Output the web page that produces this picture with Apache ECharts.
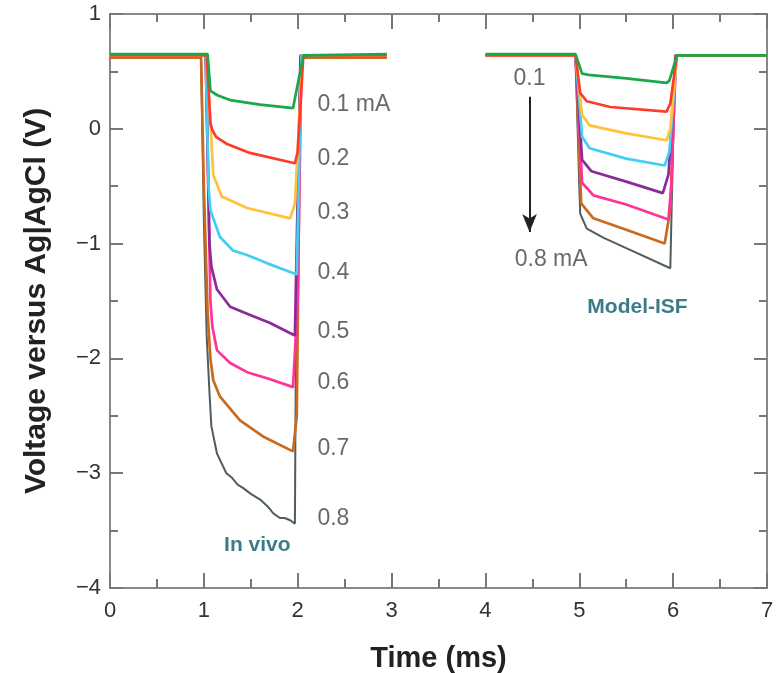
<!DOCTYPE html>
<html>
<head>
<meta charset="utf-8">
<script src="https://cdn.jsdelivr.net/npm/echarts@6/dist/echarts.min.js"></script>
<style>html,body{margin:0;padding:0;background:#fff}#c{width:780px;height:673px}</style>
</head>
<body>
<div id="c"></div>
<script>
// Current levels (mA)
const currents = ['0.1','0.2','0.3','0.4','0.5','0.6','0.7','0.8'];
const xTicks = [0,1,2,3,4,5,6,7];
const yTicks = [-4,-3,-2,-1,0,1];

// In vivo traces [time ms, voltage V]
const vivo01 = [[0,0.65],[1.04,0.65],[1.07,0.33],[1.15,0.29],[1.28,0.25],[1.6,0.21],[1.95,0.18],[2.06,0.64],[2.95,0.65]];
const vivo02 = [[0,0.64],[1.03,0.64],[1.07,0.05],[1.09,-0.01],[1.13,-0.07],[1.24,-0.13],[1.49,-0.21],[1.97,-0.30],[2.0,-0.2],[2.06,0.64],[2.95,0.64]];
const vivo03 = [[0,0.64],[1.03,0.64],[1.08,-0.1],[1.10,-0.4],[1.19,-0.59],[1.46,-0.69],[1.92,-0.78],[1.97,-0.65],[2.05,0.64],[2.95,0.64]];
const vivo04 = [[0,0.64],[1.02,0.64],[1.05,-0.5],[1.07,-0.71],[1.17,-0.94],[1.31,-1.06],[1.46,-1.10],[1.67,-1.17],[1.99,-1.27],[2.04,0.64],[2.95,0.64]];
const vivo05 = [[0,0.64],[1.02,0.64],[1.06,-1.0],[1.08,-1.2],[1.14,-1.40],[1.28,-1.55],[1.46,-1.61],[1.70,-1.69],[1.97,-1.80],[2.03,0.64],[2.95,0.64]];
const vivo06 = [[0,0.64],[1.02,0.64],[1.07,-1.5],[1.09,-1.72],[1.14,-1.93],[1.28,-2.04],[1.46,-2.12],[1.70,-2.18],[1.95,-2.25],[2.0,-1.5],[2.04,0.64],[2.95,0.64]];
const vivo07 = [[0,0.62],[0.97,0.62],[1.0,-0.5],[1.04,-1.6],[1.07,-2.0],[1.10,-2.19],[1.17,-2.33],[1.385,-2.54],[1.63,-2.68],[1.95,-2.81],[1.99,-2.5],[2.03,0.62],[2.95,0.62]];
const vivo08 = [[0,0.63],[0.97,0.63],[1.0,-0.8],[1.03,-1.8],[1.06,-2.3],[1.08,-2.59],[1.14,-2.83],[1.24,-3.0],[1.3,-3.04],[1.36,-3.1],[1.42,-3.13],[1.5,-3.18],[1.60,-3.23],[1.68,-3.29],[1.74,-3.35],[1.81,-3.39],[1.86,-3.39],[1.92,-3.41],[1.97,-3.44],[1.98,-2.0],[2.03,0.63],[2.95,0.63]];

// Model-ISF traces [time ms, voltage V]
const model01 = [[4.0,0.65],[4.96,0.65],[5.03,0.48],[5.1,0.47],[5.5,0.44],[5.93,0.40],[5.96,0.42],[6.04,0.64],[7,0.64]];
const model02 = [[4.0,0.64],[4.96,0.64],[5.01,0.31],[5.08,0.24],[5.33,0.19],[5.93,0.15],[5.97,0.22],[6.04,0.64],[7,0.64]];
const model03 = [[4.0,0.64],[4.96,0.64],[5.03,0.12],[5.11,0.03],[5.5,-0.04],[5.93,-0.10],[5.97,0.0],[6.04,0.64],[7,0.64]];
const model04 = [[4.0,0.64],[4.96,0.64],[5.03,-0.07],[5.11,-0.17],[5.5,-0.26],[5.91,-0.32],[5.96,-0.2],[6.04,0.64],[7,0.64]];
const model05 = [[4.0,0.64],[4.96,0.64],[5.03,-0.27],[5.13,-0.37],[5.5,-0.46],[5.89,-0.56],[5.95,-0.4],[6.03,0.64],[7,0.64]];
const model06 = [[4.0,0.64],[4.96,0.64],[5.03,-0.47],[5.15,-0.58],[5.5,-0.66],[5.95,-0.79],[5.98,-0.5],[6.03,0.64],[7,0.64]];
const model07 = [[4.0,0.64],[4.96,0.64],[5.02,-0.65],[5.15,-0.78],[5.5,-0.88],[5.91,-1.0],[5.97,-0.7],[6.03,0.64],[7,0.64]];
const model08 = [[4.0,0.64],[4.96,0.64],[5.0,-0.5],[5.01,-0.74],[5.08,-0.87],[5.26,-0.95],[5.5,-1.04],[5.97,-1.215],[6.02,0.64],[7,0.64]];

// Text annotations [time, voltage, text]
const vivoLabels = [[2.21,0.21,'0.1 mA'],[2.21,-0.26,'0.2'],[2.21,-0.73,'0.3'],[2.21,-1.25,'0.4'],[2.21,-1.77,'0.5'],[2.21,-2.21,'0.6'],[2.21,-2.79,'0.7'],[2.21,-3.40,'0.8']];
const modelLabels = [[4.47,0.44,'0.1'],[4.70,-1.14,'0.8 mA']];
const groupLabels = [[1.57,-3.63,'In vivo'],[5.62,-1.55,'Model-ISF']];
const arrowFrom = [4.47,0.28];
const arrowTo = [4.47,-0.9];

const colors = ['#1aa84a','#ff3a2a','#ffc23a','#42cff2','#8b2a98','#ff3398','#c96a1e','#4f5d5d'];
const vivo = [vivo01,vivo02,vivo03,vivo04,vivo05,vivo06,vivo07,vivo08];
const model = [model01,model02,model03,model04,model05,model06,model07,model08];

const FONT = 'Liberation Sans, Arial, sans-serif';
const series = [];
for (let i = 7; i >= 0; i--) {
  [vivo[i], model[i]].forEach((d, k) => {
    series.push({
      type: 'line', name: currents[i] + (k ? ' model' : ' vivo'), data: d,
      showSymbol: false, symbol: 'none', animation: false,
      lineStyle: { color: colors[i], width: i === 7 ? 2 : 2.7 },
      z: 2
    });
  });
}
const txt = { fontFamily: FONT, fontSize: 23, color: '#444' };
series.push({
  type: 'scatter', symbolSize: 0, animation: false, data: vivoLabels,
  label: { show: true, position: 'right', distance: 0, formatter: p => p.data[2], ...txt },
  z: 5
});
series.push({
  type: 'scatter', symbolSize: 0, animation: false, data: modelLabels,
  label: { show: true, position: 'inside', formatter: p => p.data[2], ...txt },
  markLine: {
    silent: true, symbol: ['none', 'arrow'], symbolSize: [11, 18],
    lineStyle: { color: '#222', width: 2, type: 'solid' }, label: { show: false },
    data: [[{ coord: arrowFrom }, { coord: arrowTo }]]
  },
  z: 5
});
series.push({
  type: 'scatter', symbolSize: 0, animation: false, data: groupLabels,
  label: { show: true, position: 'inside', formatter: p => p.data[2], fontFamily: FONT, fontSize: 21, fontWeight: 'bold', color: '#0a5a6a' },
  z: 5
});

const tickStyle = { color: '#777', width: 2 };
const axisLine = { show: true, onZero: false, lineStyle: { color: '#888', width: 2 } };
const labelStyle = { fontFamily: FONT, fontSize: 22, color: '#333' };
const fmt = v => (v < 0 ? '\u2212' + Math.abs(v) : String(v));

const chart = echarts.init(document.getElementById('c'));
chart.setOption({
  animation: false,
  backgroundColor: '#fff',
  grid: { left: 110, right: 13, top: 14, bottom: 85, containLabel: false, outerBoundsMode: 'none' },
  xAxis: [
    { type: 'value', min: xTicks[0], max: xTicks[xTicks.length - 1], interval: 1, position: 'bottom',
      axisLine, axisTick: { inside: true, length: 15, lineStyle: tickStyle },
      minorTick: { show: true, splitNumber: 2, length: 9, lineStyle: tickStyle },
      splitLine: { show: false },
      axisLabel: { ...labelStyle, margin: 12, formatter: fmt },
      name: 'Time (ms)', nameLocation: 'middle', nameGap: 56,
      nameTextStyle: { fontFamily: FONT, fontSize: 29, fontWeight: 'bold', color: '#222' } },
    { type: 'value', min: 0, max: 7, interval: 1, position: 'top',
      axisLine, axisTick: { inside: true, length: 15, lineStyle: tickStyle },
      minorTick: { show: true, splitNumber: 2, length: 8, lineStyle: tickStyle },
      splitLine: { show: false }, axisLabel: { show: false } }
  ],
  yAxis: [
    { type: 'value', min: yTicks[0], max: yTicks[yTicks.length - 1], interval: 1, position: 'left',
      axisLine, axisTick: { inside: true, length: 13, lineStyle: tickStyle },
      minorTick: { show: true, splitNumber: 2, length: 8, lineStyle: tickStyle },
      splitLine: { show: false },
      axisLabel: { ...labelStyle, margin: 9, formatter: fmt },
      name: 'Voltage versus Ag|AgCl (V)', nameLocation: 'middle', nameGap: 58, nameRotate: 90,
      nameTextStyle: { fontFamily: FONT, fontSize: 30, fontWeight: 'bold', color: '#222' } },
    { type: 'value', min: -4, max: 1, interval: 1, position: 'right',
      axisLine, axisTick: { inside: true, length: 13, lineStyle: tickStyle },
      minorTick: { show: true, splitNumber: 2, length: 8, lineStyle: tickStyle },
      splitLine: { show: false }, axisLabel: { show: false } }
  ],
  series
});
</script>
</body>
</html>
